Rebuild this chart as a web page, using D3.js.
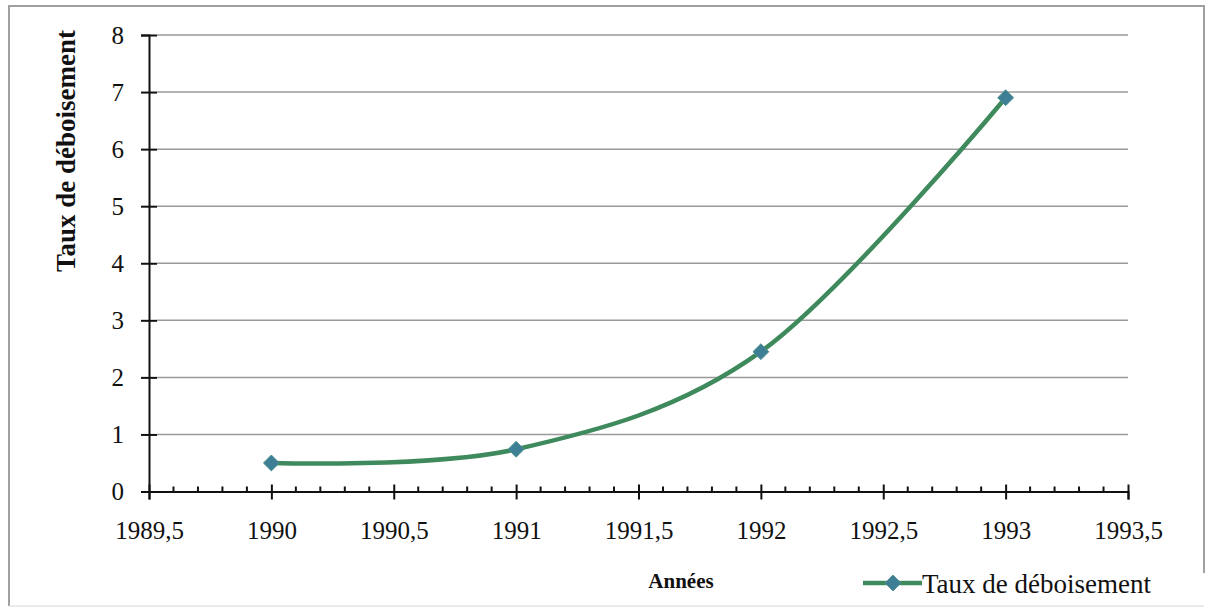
<!DOCTYPE html>
<html>
<head>
<meta charset="utf-8">
<script src="https://cdn.jsdelivr.net/npm/d3@7"></script>
<style>
  html, body { margin: 0; padding: 0; background: #fff; }
  svg { display: block; }
</style>
</head>
<body>
<svg id="chart" width="1207" height="609"></svg>
<script>
// Data
const years = [1990, 1991, 1992, 1993];
const tauxDeboisement = [0.5, 0.74, 2.45, 6.9];
const xTickValues = [1989.5, 1990, 1990.5, 1991, 1991.5, 1992, 1992.5, 1993, 1993.5];
const yTickValues = [0, 1, 2, 3, 4, 5, 6, 7, 8];
const seriesName = "Taux de déboisement";
const xTitle = "Années";
const yTitle = "Taux de déboisement";

const FONT = '"Liberation Serif", "Times New Roman", serif';
const svg = d3.select("#chart");

// frame (scanned page border)
svg.append("path")
  .attr("d", "M9,606 L9,6 L1204,6 L1204,573")
  .attr("fill", "none").attr("stroke", "#a0a0a0").attr("stroke-width", 2);
svg.append("line").attr("x1", 9).attr("x2", 1204).attr("y1", 606).attr("y2", 606)
  .attr("stroke", "#e4e4e4").attr("stroke-width", 1.5);

const x = d3.scaleLinear().domain([1989.5, 1993.5]).range([149, 1128]);
const y = d3.scaleLinear().domain([0, 8]).range([491.5, 35]);

// gridlines
svg.append("g").selectAll("line")
  .data(yTickValues.filter(v => v > 0))
  .join("line")
  .attr("x1", 157).attr("x2", 1128)
  .attr("y1", d => y(d)).attr("y2", d => y(d))
  .attr("stroke", "#9a9a9a").attr("stroke-width", 1.5);

// y axis
const yAxis = d3.axisLeft(y).tickValues(yTickValues).tickSize(8).tickPadding(17)
  .tickFormat(d3.format("d"));
const gy = svg.append("g").attr("transform", "translate(149,0)").call(yAxis);
gy.select(".domain").attr("stroke", "#111").attr("stroke-width", 2);
gy.selectAll(".tick line").attr("stroke", "#111").attr("stroke-width", 2).attr("x2", -8).attr("x1", 8);
gy.selectAll(".tick text").attr("font-size", 25).style("font-family", FONT).attr("fill", "#111");

// x axis minor ticks
const minor = d3.range(1989.6, 1993.5, 0.1).filter(v => Math.abs(v * 2 - Math.round(v * 2)) > 1e-6);
svg.append("g").selectAll("line").data(minor).join("line")
  .attr("x1", d => x(d)).attr("x2", d => x(d))
  .attr("y1", y(0) - 5).attr("y2", y(0))
  .attr("stroke", "#111").attr("stroke-width", 2);

// x axis
const xAxis = d3.axisBottom(x).tickValues(xTickValues).tickSize(8)
  .tickFormat(d => d3.format(".1~f")(d).replace(".", ","));
const gx = svg.append("g").attr("transform", `translate(0,${y(0)})`).call(xAxis);
gx.select(".domain").attr("stroke", "#111").attr("stroke-width", 2);
gx.selectAll(".tick line").attr("stroke", "#111").attr("stroke-width", 2).attr("y1", -7).attr("y2", 8);
gx.selectAll(".tick text").attr("font-size", 25).style("font-family", FONT).attr("fill", "#111")
  .attr("y", 47).attr("dy", 0);

// series line
const pts = years.map((yr, i) => [yr, tauxDeboisement[i]]);
const line = d3.line().x(d => x(d[0])).y(d => y(d[1])).curve(d3.curveCardinal.tension(0));
svg.append("path").datum(pts).attr("d", line)
  .attr("fill", "none").attr("stroke", "#3f8a5c").attr("stroke-width", 4.5)
  .attr("stroke-linecap", "round");

// markers
const diamond = d3.symbol().type(d3.symbolDiamond2).size(160);
svg.append("g").selectAll("path").data(pts).join("path")
  .attr("d", diamond)
  .attr("transform", d => `translate(${x(d[0])},${y(d[1])})`)
  .attr("fill", "#3f7f95").attr("stroke", "#4a8f90").attr("stroke-width", 1);

// y title
svg.append("text")
  .attr("transform", "translate(75,151) rotate(-90)")
  .attr("text-anchor", "middle")
  .style("font-family", FONT)
  .attr("font-size", 27).attr("font-weight", "bold").attr("fill", "#111")
  .text(yTitle);

// x title
svg.append("text")
  .attr("x", 681).attr("y", 588)
  .attr("text-anchor", "middle")
  .style("font-family", FONT)
  .attr("font-size", 21).attr("font-weight", "bold").attr("fill", "#111")
  .text(xTitle);

// legend
const lg = svg.append("g");
lg.append("line").attr("x1", 863).attr("x2", 922).attr("y1", 583).attr("y2", 583)
  .attr("stroke", "#3f8a5c").attr("stroke-width", 4.5);
lg.append("path").attr("d", diamond).attr("transform", "translate(893,583)")
  .attr("fill", "#3f7f95").attr("stroke", "#4a8f90").attr("stroke-width", 1);
lg.append("text").attr("x", 922).attr("y", 593)
  .style("font-family", FONT).attr("fill", "#111")
  .attr("font-size", 27).text(seriesName);
</script>
</body>
</html>
